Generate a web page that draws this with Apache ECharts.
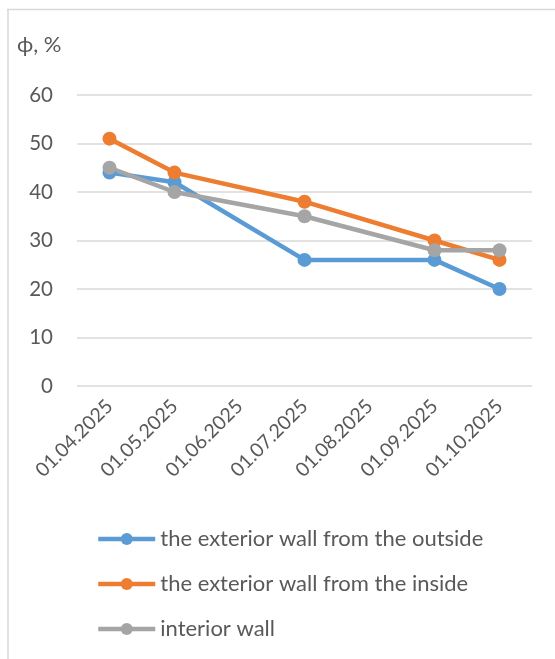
<!DOCTYPE html>
<html>
<head>
<meta charset="utf-8">
<script src="https://cdn.jsdelivr.net/npm/echarts@6/dist/echarts.min.js"></script>
<style>
  html, body { margin: 0; padding: 0; background: #fff; }
  #chart { width: 555px; height: 659px; }
</style>
</head>
<body>
<div id="chart"></div>
<script>
// даты измерений (ось X)
const dates = ['01.04.2025', '01.05.2025', '01.06.2025', '01.07.2025', '01.08.2025', '01.09.2025', '01.10.2025']
// значения влажности, null - измерения не было
const outsideWall = [44, 42, null, 26, null, 26, 20]
const insideWall = [51, 44, null, 38, null, 30, 26]
const interiorWall = [45, 40, null, 35, null, 28, 28]
const seriesNames = ['the exterior wall from the outside', 'the exterior wall from the inside', 'interior wall']
const colors = ['#5B9BD5', '#ED7D31', '#A5A5A5']

const font = 'Lato, "Open Sans", sans-serif'
const textColor = '#595959'

let chart = echarts.init(document.getElementById('chart'))

function makeSeries(name, data, color) {
  return {
    name: name,
    type: 'line',
    data: data,
    connectNulls: true,
    symbol: 'circle',
    symbolSize: 14,
    color: color,
    lineStyle: { width: 4.5, color: color },
    itemStyle: { color: color },
    emphasis: { disabled: true }
  }
}

let option = {
  animation: false,
  textStyle: { fontFamily: font },
  graphic: [
    // рамка области диаграммы (видна только сверху и слева)
    { type: 'line', shape: { x1: 7, y1: 9.5, x2: 555, y2: 9.5 }, style: { stroke: '#D9D9D9', lineWidth: 1.5 } },
    { type: 'line', shape: { x1: 8, y1: 9, x2: 8, y2: 659 }, style: { stroke: '#D9D9D9', lineWidth: 1.5 } },
    { type: 'text', left: 17, top: 34, style: { text: 'ϕ, %', fontSize: 22, fill: textColor, fontFamily: font } }
  ],
  grid: {
    left: 77,
    right: 23,
    top: 95,
    bottom: 273,
    containLabel: false
  },
  legend: {
    orient: 'vertical',
    left: 91,
    top: 523,
    itemWidth: 57,
    itemHeight: 15,
    itemGap: 23,
    lineStyle: { width: 4.5 },
    textStyle: { fontSize: 22, color: textColor, fontFamily: font },
    data: seriesNames
  },
  xAxis: {
    type: 'category',
    data: dates,
    boundaryGap: true,
    axisLine: { show: false },
    axisTick: { show: false },
    axisLabel: {
      rotate: 45,
      margin: 17,
      fontSize: 19.5,
      color: textColor,
      interval: 0
    }
  },
  yAxis: {
    type: 'value',
    min: 0,
    max: 60,
    interval: 10,
    axisLine: { show: false },
    axisTick: { show: false },
    axisLabel: { fontSize: 20.5, color: textColor, margin: 24 },
    splitLine: { lineStyle: { color: '#D9D9D9', width: 1.5 } }
  },
  series: [
    makeSeries(seriesNames[0], outsideWall, colors[0]),
    makeSeries(seriesNames[1], insideWall, colors[1]),
    makeSeries(seriesNames[2], interiorWall, colors[2])
  ]
}

chart.setOption(option)
window.addEventListener('resize', chart.resize)
</script>
</body>
</html>
